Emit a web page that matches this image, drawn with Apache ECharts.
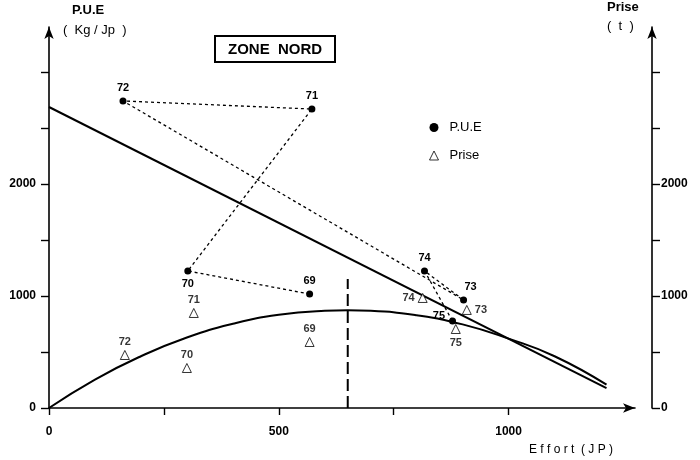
<!DOCTYPE html>
<html>
<head>
<meta charset="utf-8">
<script src="https://cdn.jsdelivr.net/npm/echarts@6/dist/echarts.min.js"></script>
<style>html,body{margin:0;padding:0;background:#fff}#c{width:700px;height:460px}</style>
</head>
<body>
<div id="c"></div>
<script>
// ---- data ----
const years = ['69', '70', '71', '72', '73', '74', '75'];
const effortPue = [567, 302, 572, 161, 902, 817, 878];
const pue = [1017, 1223, 2668, 2740, 964, 1223, 776];
const effortPrise = [567, 300, 315, 165, 909, 813, 885];
const prise = [589, 357, 848, 473, 875, 982, 705];
// regression line P.U.E = f(effort)
const lineEffort = [0, 1213];
const linePue = [2686, 178];
// production curve Prise = f(effort)
const curveEffort = [0, 100, 200, 300, 400, 500, 600, 650, 700, 800, 900, 1000, 1100, 1213];
const curvePrise = [0, 254, 462, 629, 751, 832, 868, 873, 868, 827, 746, 619, 462, 208];
// optimal effort marker
const optEffort = [650, 650];
const optPrise = [0, 1151];
// ticks and tick labels
const xTickValues = [0, 250, 500, 750, 1000];
const xLabelValues = [0, 500, 1000];
const yTickValues = [0, 500, 1000, 1500, 2000, 2500, 3000];
const yLabelValues = [0, 1000, 2000];

const puePos = {'69':'top','70':'bottom','71':'top','72':'top','73':'top','74':'top','75':'left'};
const pueOff = {'73':[7,0],'75':[0,-5]};
const prisePos = {'69':'top','70':'top','71':'top','72':'top','73':'right','74':'left','75':'bottom'};

const FONT = '"Liberation Sans", Arial, sans-serif';
const axisLineStyle = {color: '#000', width: 1.6};

function yAxisCfg(pos, offset) {
  return {
    type: 'value', position: pos, offset: offset || 0,
    min: 0, max: 3400, interval: 500,
    axisLine: {show: true, symbol: ['none', 'arrow'], symbolSize: [7, 12], lineStyle: axisLineStyle},
    axisTick: {show: true, length: 8, customValues: yTickValues, lineStyle: {color: '#000', width: 1.4}},
    splitLine: {show: false},
    axisLabel: {
      color: '#000', fontSize: 12, fontWeight: 'bold', fontFamily: FONT, margin: pos === 'left' ? 13 : 9,
      customValues: yLabelValues,
      formatter: v => (yLabelValues.indexOf(v) >= 0 ? String(v) : '')
    }
  };
}

const chart = echarts.init(document.getElementById('c'), null, {renderer: 'canvas'});
chart.setOption({
  animation: false,
  backgroundColor: '#fff',
  textStyle: {fontFamily: FONT, color: '#000'},
  title: {
    text: 'ZONE  NORD', left: 215, top: 36,
    borderColor: '#000', borderWidth: 2, padding: [6, 13, 5, 13],
    textStyle: {fontSize: 15, fontWeight: 'bold', color: '#000', fontFamily: FONT}
  },
  legend: {
    orient: 'vertical', left: 424, top: 116, itemWidth: 9, itemHeight: 9, itemGap: 15,
    textStyle: {fontSize: 13, color: '#000', fontFamily: FONT, padding: [0, 0, 0, 6]},
    data: [
      {name: 'P.U.E', icon: 'circle', itemStyle: {color: '#000'}},
      {name: 'Prise', icon: 'triangle', itemStyle: {color: '#fff', borderColor: '#000', borderWidth: 1}}
    ]
  },
  grid: {left: 49, right: 65, top: 27, bottom: 52},
  xAxis: {
    type: 'value', min: 0, max: 1275, interval: 250,
    axisLine: {show: true, symbol: ['none', 'arrow'], symbolSize: [7, 12], lineStyle: axisLineStyle},
    axisTick: {show: true, length: 7, customValues: xTickValues, lineStyle: {color: '#000', width: 1.4}},
    splitLine: {show: false},
    axisLabel: {color: '#000', fontSize: 12, fontWeight: 'bold', fontFamily: FONT, margin: 18,
      customValues: xLabelValues,
      formatter: v => (xLabelValues.indexOf(v) >= 0 ? String(v) : '')}
  },
  yAxis: [yAxisCfg('left'), yAxisCfg('right', 17)],
  graphic: [
    {type: 'text', left: 72, top: 4, style: {text: 'P.U.E', font: 'bold 13px ' + FONT, fill: '#000'}},
    {type: 'text', left: 63, top: 24, style: {text: '(  Kg / Jp  )', font: '13px ' + FONT, fill: '#000'}},
    {type: 'text', left: 607, top: 1, style: {text: 'Prise', font: 'bold 13px ' + FONT, fill: '#000'}},
    {type: 'text', left: 607, top: 20, style: {text: '(  t  )', font: '13px ' + FONT, fill: '#000'}},
    {type: 'text', left: 529, top: 444, style: {text: 'E f f o r t  ( J P )', font: '12px ' + FONT, fill: '#000'}}
  ],
  series: [
    {
      name: 'reg', type: 'line', silent: true, symbol: 'none', z: 2,
      data: lineEffort.map((e, i) => [e, linePue[i]]),
      lineStyle: {color: '#000', width: 2}
    },
    {
      name: 'curve', type: 'line', yAxisIndex: 1, silent: true, symbol: 'none', smooth: true, z: 2,
      data: curveEffort.map((e, i) => [e, curvePrise[i]]),
      lineStyle: {color: '#000', width: 2}
    },
    {
      name: 'opt', type: 'line', yAxisIndex: 1, silent: true, symbol: 'none', z: 2,
      data: optEffort.map((e, i) => [e, optPrise[i]]),
      lineStyle: {color: '#000', width: 2, type: [12, 5]}
    },
    {
      name: 'P.U.E', type: 'line', symbol: 'circle', symbolSize: 7, z: 4,
      itemStyle: {color: '#000'},
      lineStyle: {color: '#000', width: 1.3, type: [3, 3]},
      label: {show: true, fontSize: 11, fontWeight: 'bold', color: '#000', fontFamily: FONT, distance: 4},
      data: years.map((y, i) => ({value: [effortPue[i], pue[i]], name: y,
        label: {position: puePos[y], offset: pueOff[y] || [0, 0], formatter: y}}))
    },
    {
      name: 'Prise', type: 'scatter', yAxisIndex: 1, symbol: 'triangle', symbolSize: 9, z: 4,
      itemStyle: {color: '#fff', borderColor: '#000', borderWidth: 1},
      label: {show: true, fontSize: 11, fontWeight: 'bold', color: '#000', fontFamily: FONT, distance: 3},
      data: years.map((y, i) => ({value: [effortPrise[i], prise[i]], name: y,
        label: {position: prisePos[y], formatter: y}}))
    }
  ]
});
</script>
</body>
</html>
